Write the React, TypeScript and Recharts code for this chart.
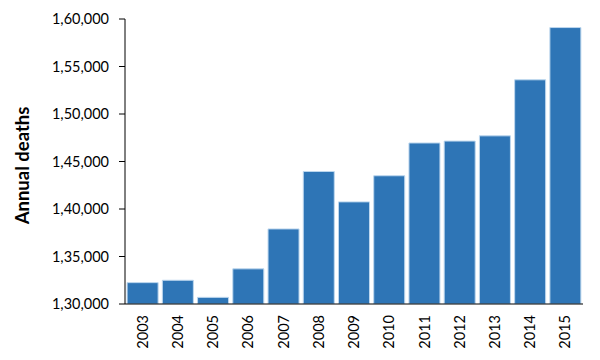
import React from 'react';
import { BarChart, Bar, XAxis, YAxis } from 'recharts';

// annual deaths per year
const years = ['2003', '2004', '2005', '2006', '2007', '2008', '2009', '2010', '2011', '2012', '2013', '2014', '2015'];
const deaths = [132250, 132500, 130700, 133700, 137900, 143950, 140750, 143500, 146950, 147150, 147700, 153600, 159100];
const yTicks = [130000, 135000, 140000, 145000, 150000, 155000, 160000];

const data = years.map((year, i) => ({ year, deaths: deaths[i] }));

const FONT = 'Lato, "Open Sans", sans-serif';

// Indian digit grouping: 130000 -> 1,30,000
const formatIndian = (v: number) => {
  const s = String(Math.round(v));
  if (s.length <= 3) return s;
  const last3 = s.slice(-3);
  let rest = s.slice(0, -3);
  const parts: string[] = [];
  while (rest.length > 2) {
    parts.unshift(rest.slice(-2));
    rest = rest.slice(0, -2);
  }
  if (rest) parts.unshift(rest);
  return parts.join(',') + ',' + last3;
};

const YearTick = (props: any) => {
  const { x, y, payload } = props;
  return (
    <text
      x={x}
      y={y}
      dy="0.35em"
      transform={`rotate(-90, ${x}, ${y})`}
      textAnchor="end"
      fontSize={14.5}
      fontFamily={FONT}
      fill="#000"
    >
      {payload.value}
    </text>
  );
};

const AxisTitle = (props: any) => {
  const { viewBox } = props;
  const cx = viewBox.x + 22;
  const cy = viewBox.y + viewBox.height / 2 + 4;
  return (
    <text
      x={cx}
      y={cy}
      transform={`rotate(-90, ${cx}, ${cy})`}
      textAnchor="middle"
      dominantBaseline="central"
      fontSize={18.5}
      fontWeight="bold"
      fontFamily={FONT}
      fill="#000"
    >
      Annual deaths
    </text>
  );
};

export default function App() {
  return (
    <div style={{ position: 'absolute', left: 0, top: 0, width: 600, height: 360, background: '#fff' }}>
      <BarChart
        width={600}
        height={360}
        data={data}
        margin={{ top: 19, right: 17, bottom: 6, left: 0 }}
        barCategoryGap="6%"
      >
        <XAxis
          dataKey="year"
          height={50}
          tickLine={false}
          tickSize={0}
          tickMargin={11}
          interval={0}
          axisLine={{ stroke: '#000', strokeWidth: 1 }}
          tick={<YearTick />}
        />
        <YAxis
          width={125}
          domain={[130000, 160000]}
          ticks={yTicks}
          allowDataOverflow
          tickFormatter={formatIndian}
          tickSize={6}
          tickMargin={10}
          tickLine={{ stroke: '#000' }}
          axisLine={{ stroke: '#000', strokeWidth: 1 }}
          tick={{ fill: '#000', fontSize: 14.5, fontFamily: FONT }}
          label={<AxisTitle />}
        />
        <Bar dataKey="deaths" fill="#2E75B6" stroke="#BDD7EE" strokeWidth={1} isAnimationActive={false} />
      </BarChart>
    </div>
  );
}
